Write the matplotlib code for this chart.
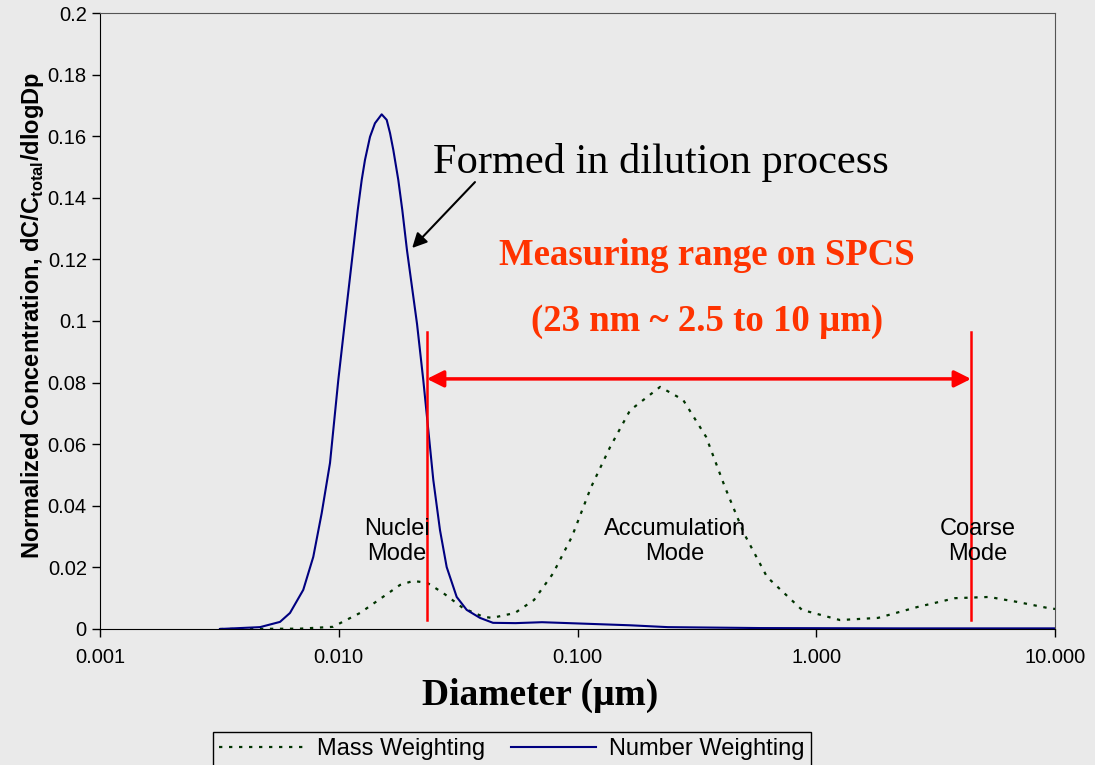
import numpy as np
import matplotlib.pyplot as plt

plt.rcParams['font.family'] = ['Liberation Sans', 'DejaVu Sans']
plt.rcParams['mathtext.fontset'] = 'custom'
plt.rcParams['mathtext.rm'] = 'Liberation Sans'
plt.rcParams['mathtext.bf'] = 'Liberation Sans:bold'

# Number weighting (diameter in um, normalized conc.)
num_d = [0.00318, 0.00468, 0.005675, 0.006249, 0.007102, 0.007822, 0.008484, 0.009192,
         0.009956, 0.01083, 0.01201, 0.01248, 0.01288, 0.01352, 0.01418, 0.01513,
         0.01588, 0.01640, 0.01693, 0.01776, 0.01846, 0.01931, 0.02128, 0.02260,
         0.02372, 0.02489, 0.02655, 0.02832, 0.03119, 0.03435, 0.03905, 0.04427,
         0.0550, 0.0710, 0.100, 0.166, 0.239, 0.581, 2.24, 10.0]
num_c = [0.0, 0.0006, 0.0023, 0.0052, 0.0127, 0.0234, 0.0376, 0.0539,
         0.0808, 0.1058, 0.136, 0.1458, 0.1523, 0.1598, 0.1642, 0.1671,
         0.1653, 0.161, 0.1555, 0.1458, 0.136, 0.123, 0.099, 0.0808,
         0.0646, 0.0484, 0.0321, 0.0201, 0.0104, 0.0062, 0.0036, 0.0020,
         0.0019, 0.0022, 0.0018, 0.0012, 0.0006, 0.0003, 0.0002, 0.0002]

# Mass weighting
mass_d = [0.00318, 0.00688, 0.00946, 0.01228, 0.01531, 0.01806, 0.02049, 0.02344,
          0.02736, 0.03315, 0.04018, 0.04384, 0.05470, 0.06572, 0.07893, 0.09481,
          0.1139, 0.1368, 0.1660, 0.2218, 0.2768, 0.3455, 0.4148, 0.4982,
          0.6219, 0.8715, 1.257, 1.814, 2.641, 3.810, 5.291, 6.93, 9.35, 10.0]
mass_c = [0.0, 0.0001, 0.0007, 0.0052, 0.0104, 0.0143, 0.0156, 0.015,
          0.0117, 0.0068, 0.0040, 0.0036, 0.0052, 0.0094, 0.018, 0.030,
          0.046, 0.059, 0.071, 0.0786, 0.0744, 0.0624, 0.046, 0.031,
          0.0169, 0.0062, 0.0029, 0.0036, 0.0071, 0.010, 0.0104, 0.0088, 0.0068, 0.0065]

x_ticks = [0.001, 0.01, 0.1, 1, 10]
x_labels = ['0.001', '0.010', '0.100', '1.000', '10.000']
y_ticks = [0, 0.02, 0.04, 0.06, 0.08, 0.1, 0.12, 0.14, 0.16, 0.18, 0.2]
y_labels = ['0', '0.02', '0.04', '0.06', '0.08', '0.1', '0.12', '0.14', '0.16', '0.18', '0.2']

# measuring range limits (um)
range_lo = 0.0234
range_hi = 4.45

bg = '#eaeaea'
fig = plt.figure(figsize=(10.95, 7.65), dpi=100, facecolor=bg)
ax = fig.add_axes([0.0913, 0.1778, 0.8722, 0.8052])
ax.set_facecolor(bg)

l1, = ax.plot(mass_d, mass_c, color='#003300', lw=1.6, linestyle=(0, (1.5, 3)),
              label='Mass Weighting')
l2, = ax.plot(num_d, num_c, color='#000080', lw=1.5, label='Number Weighting')

ax.set_xscale('log')
ax.set_xlim(0.001, 10)
ax.set_ylim(0, 0.2)
ax.set_xticks(x_ticks)
ax.set_xticklabels(x_labels)
ax.set_yticks(y_ticks)
ax.set_yticklabels(y_labels)
ax.minorticks_off()
ax.tick_params(labelsize=14.5, length=6, width=1, direction='out')
ax.tick_params(axis='x', pad=8)

for s in ['top', 'right']:
    ax.spines[s].set_color('#555555')
for s in ['left', 'bottom']:
    ax.spines[s].set_color('black')

# red range markers
ax.plot([range_lo, range_lo], [0.0029, 0.0964], color='red', lw=1.8)
ax.plot([range_hi, range_hi], [0.0029, 0.0964], color='red', lw=1.8)
ax.annotate('', xy=(range_lo, 0.0812), xytext=(range_hi, 0.0812),
            arrowprops=dict(arrowstyle='<|-|>', color='red', lw=2.5,
                            mutation_scale=25, shrinkA=0, shrinkB=0))

ax.text(0.349, 0.1214, 'Measuring range on SPCS', color='#ff3300', fontsize=26.5,
        fontweight='bold', family='Liberation Serif', ha='center', va='center')
ax.text(0.349, 0.0997, '(23 nm ~ 2.5 to 10 \u00b5m)', color='#ff3300', fontsize=26.5,
        fontweight='bold', family='Liberation Serif', ha='center', va='center')

ax.text(0.224, 0.1515, 'Formed in dilution process', fontsize=30.5,
        family='Liberation Serif', ha='center', va='center')
ax.annotate('', xy=(0.0203, 0.1237), xytext=(0.0372, 0.1451),
            arrowprops=dict(arrowstyle='-|>', color='black', lw=1.5,
                            mutation_scale=22, shrinkA=0, shrinkB=0))

ax.text(0.01755, 0.0284, 'Nuclei\nMode', fontsize=17, ha='center', va='center',
        linespacing=1.2)
ax.text(0.256, 0.0284, 'Accumulation\nMode', fontsize=17, ha='center', va='center',
        linespacing=1.2)
ax.text(4.75, 0.0284, 'Coarse\nMode', fontsize=17, ha='center', va='center',
        linespacing=1.2)

ax.set_xlabel('Diameter (\u03bcm)', fontsize=27, fontweight='bold',
              family='Liberation Serif')
ax.xaxis.set_label_coords(0.4607, -0.08)
ax.set_ylabel('Normalized Concentration, dC/C$_\\mathbf{total}$/dlogDp',
              fontsize=17, fontweight='bold')
ax.yaxis.set_label_coords(-0.057, 0.509)

leg = fig.legend(handles=[l1, l2], loc='upper center', ncol=2,
                 bbox_to_anchor=(0.4675, 0.058), fontsize=17, frameon=True,
                 fancybox=False, edgecolor='black', facecolor=bg, framealpha=1,
                 handlelength=3.6, handletextpad=0.55, columnspacing=1.1,
                 borderpad=0.25)
leg.get_frame().set_linewidth(1)

fig.savefig('out.png', dpi=100, facecolor=bg)
